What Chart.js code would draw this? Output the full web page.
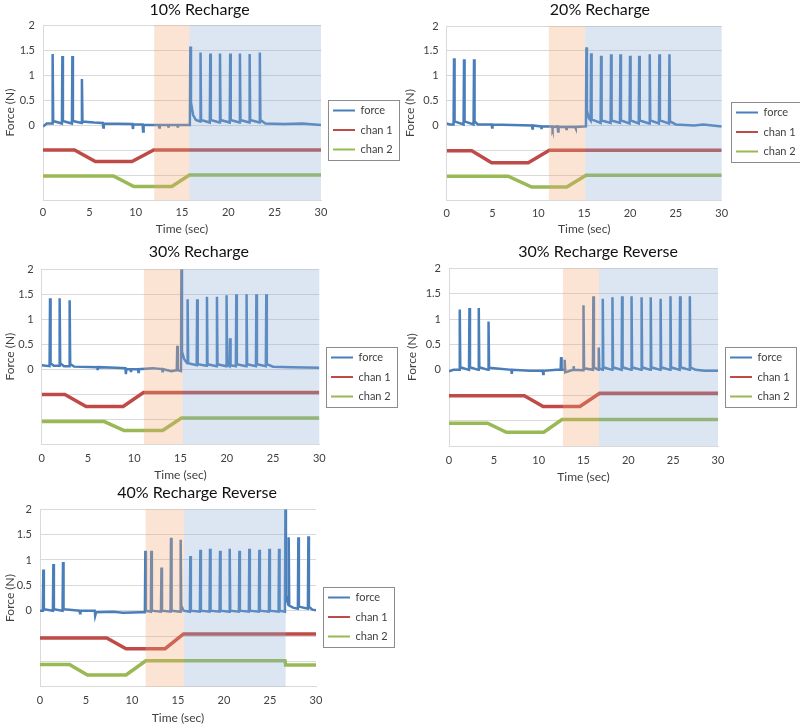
<!DOCTYPE html>
<html>
<head>
<meta charset="utf-8">
<script src="https://cdn.jsdelivr.net/npm/chart.js@4.4.1/dist/chart.umd.min.js"></script>
<style>
  html, body { margin: 0; padding: 0; background: #fff; }
  body { width: 800px; height: 725px; position: relative; overflow: hidden; }
  canvas { position: absolute; }
</style>
</head>
<body>
<canvas id="c1" width="400" height="242" style="left:0;top:0"></canvas>
<canvas id="c2" width="400" height="242" style="left:400px;top:0"></canvas>
<canvas id="c3" width="400" height="245" style="left:0;top:240px"></canvas>
<canvas id="c4" width="400" height="245" style="left:400px;top:240px"></canvas>
<canvas id="c5" width="400" height="245" style="left:0;top:480px"></canvas>
<script>
// series labels shared by every panel
const seriesNames = ['force', 'chan 1', 'chan 2'];
const xTicks = [0, 5, 10, 15, 20, 25, 30];
const yTicks = [0, 0.5, 1, 1.5, 2];

// ---- 10% Recharge ----
const force10 = [[0,-0.03],[0.4,0.03],[0.99,0.03],[1.04,1.42],[1.1,0.08],[2.04,0.03],[2.09,1.38],[2.15,0.08],
  [3.12,0.03],[3.17,1.38],[3.23,0.08],[4.15,0.04],[4.2,0.92],[4.26,0.07],[5.5,0.05],[6.45,0.04],[6.5,-0.05],[6.56,0.03],
  [9.65,0.02],[9.7,-0.08],[9.76,0.01],[10.75,0.01],[10.8,-0.13],[10.86,0],[12.5,0],[12.55,-0.05],[12.6,0],
  [13.5,0],[13.55,-0.05],[13.6,0],[14.5,0],[14.55,-0.05],[14.6,0],[15.85,0],[15.9,1.57],[15.97,0.45],[16.2,0.2],[16.5,0.1],
  [16.95,0.07],[17,1.45],[17.06,0.1],[18,0.05],[18.05,1.43],[18.11,0.1],[19.05,0.05],[19.1,1.43],[19.16,0.1],
  [20.15,0.05],[20.2,1.43],[20.26,0.1],[21.2,0.05],[21.25,1.43],[21.31,0.1],[22.25,0.05],[22.3,1.42],[22.36,0.1],
  [23.35,0.05],[23.4,1.45],[23.46,0.1],[24,0.03],[26,0.02],[28,0.03],[30,0]];
const ch1_10 = [[0,-0.5],[3.4,-0.5],[5.65,-0.73],[9.6,-0.73],[11.95,-0.5],[30,-0.5]];
const ch2_10 = [[0,-1.02],[7.6,-1.02],[9.8,-1.23],[13.9,-1.23],[15.8,-1.0],[30,-1.0]];
const orange10 = [12.0, 15.8];
const blue10 = [15.8, 30];

// ---- 20% Recharge ----
const force20 = [[0,0.04],[0.3,0.02],[0.75,0.02],[0.8,1.35],[0.86,0.08],[1.84,0.02],[1.89,1.33],[1.95,0.08],
  [2.93,0.02],[2.98,1.33],[3.04,0.08],[3.4,0.02],[4.9,0.02],[4.95,-0.04],[5,0.02],[9.3,0],[9.35,-0.06],[9.4,0],
  [10.3,-0.02],[10.35,-0.07],[10.4,-0.02],[11.5,-0.02],[11.55,-0.06],[11.6,-0.03],[12.1,-0.02],[12.15,-0.12],[12.2,-0.03],
  [13,-0.03],[13.05,-0.07],[13.1,-0.03],[14,-0.03],[14.05,-0.06],[14.1,-0.03],[15.19,-0.02],[15.24,1.57],[15.3,0.3],[15.5,0.15],
  [15.7,0.1],[15.75,1.45],[15.81,0.12],[16.79,0.05],[16.84,1.4],[16.9,0.1],[17.88,0.05],[17.93,1.43],[17.99,0.1],
  [18.9,0.05],[18.95,1.43],[19.01,0.1],[19.95,0.04],[20,1.4],[20.06,0.1],[20.95,0.04],[21,1.4],[21.06,0.1],
  [22.1,0.04],[22.15,1.43],[22.21,0.1],[23.15,0.04],[23.2,1.43],[23.26,0.1],[24.25,0.04],[24.3,1.43],[24.36,0.08],
  [25,0.02],[27,0],[28,0.02],[30,-0.02]];
const ch1_20 = [[0,-0.51],[2.73,-0.51],[4.9,-0.75],[8.9,-0.75],[11.2,-0.5],[30,-0.5]];
const ch2_20 = [[0,-1.02],[6.7,-1.02],[9.27,-1.24],[13.1,-1.24],[15.2,-1.0],[30,-1.0]];
const orange20 = [11.15, 15.1];
const blue20 = [15.1, 30];

// ---- 30% Recharge ----
const force30 = [[0,0.08],[0.85,0.06],[0.9,1.42],[0.96,0.12],[1.3,0.07],[1.89,0.07],[1.94,1.42],[2,0.12],[2.4,0.06],
  [2.97,0.06],[3.02,1.38],[3.08,0.1],[3.5,0.05],[6,0.04],[6.05,-0.02],[6.1,0.04],[8,0.03],[9.05,0.02],[9.1,-0.1],[9.15,0],
  [9.6,0],[9.65,-0.06],[9.7,0],[10.4,0],[10.45,-0.06],[10.5,0],[12,0.02],[13,0],[13.05,-0.04],[13.1,0],[14,-0.04],
  [14.6,-0.02],[14.65,0.47],[14.7,-0.02],[15.05,-0.04],[15.1,2.0],[15.16,0.35],[15.4,0.2],[15.72,0.12],[15.77,1.4],[15.83,0.12],
  [16.75,0.08],[16.8,1.4],[16.86,0.1],[17.81,0.07],[17.86,1.45],[17.92,0.1],[18.89,0.06],[18.94,1.45],[19,0.1],
  [19.93,0.06],[19.98,1.48],[20.04,0.1],[20.3,0.06],[20.35,0.62],[20.41,0.08],[20.98,0.06],[21.03,1.5],[21.09,0.1],
  [22.09,0.06],[22.14,1.5],[22.2,0.1],[23.15,0.06],[23.2,1.5],[23.26,0.1],[24.22,0.06],[24.27,1.5],[24.33,0.1],
  [25,0.05],[27,0.04],[30,0.03]];
const ch1_30 = [[0,-0.51],[2.5,-0.51],[4.8,-0.75],[8.8,-0.75],[11.0,-0.47],[30,-0.47]];
const ch2_30 = [[0,-1.05],[6.77,-1.05],[8.9,-1.23],[13.07,-1.23],[15.1,-0.98],[30,-0.98]];
const orange30 = [11.05, 15.23];
const blue30 = [15.23, 30];

// ---- 30% Recharge Reverse ----
const force30r = [[0,-0.03],[0.5,0],[1.15,0],[1.2,1.19],[1.26,0.05],[2.23,0],[2.28,1.22],[2.34,0.05],
  [3.27,0],[3.32,1.22],[3.38,0.05],[4.36,0],[4.41,0.95],[4.47,0.04],[6.95,0],[7,-0.08],[7.05,0],[9,-0.02],
  [10.45,-0.02],[10.5,-0.08],[10.55,-0.02],[12,0],[12.45,0],[12.5,0.25],[12.56,0],[12.85,0],[12.9,0.2],[12.96,-0.05],
  [13.85,0],[13.9,0.07],[13.96,0],[14.95,-0.01],[15,1.27],[15.06,0.03],[16.05,0],[16.1,1.45],[16.16,0.05],
  [16.65,0],[16.7,0.44],[16.76,0.03],[17.1,0],[17.15,1.4],[17.21,0.05],[18.18,0],[18.23,1.43],[18.29,0.05],
  [19.25,0],[19.3,1.45],[19.36,0.05],[20.31,0],[20.36,1.45],[20.42,0.05],[21.43,0],[21.48,1.43],[21.54,0.05],
  [22.45,0],[22.5,1.43],[22.56,0.05],[23.55,0],[23.6,1.4],[23.66,0.05],[24.65,0],[24.7,1.45],[24.76,0.05],
  [25.72,0],[25.77,1.45],[25.83,0.05],[26.81,0],[26.86,1.45],[26.92,0.05],[27.5,0],[28.5,-0.02],[30,-0.02]];
const ch1_30r = [[0,-0.51],[8.4,-0.51],[10.5,-0.72],[14.6,-0.72],[16.8,-0.46],[30,-0.46]];
const ch2_30r = [[0,-1.05],[4.3,-1.05],[6.4,-1.23],[10.57,-1.23],[12.6,-0.98],[30,-0.98]];
const orange30r = [12.7, 16.73];
const blue30r = [16.73, 30];

// ---- 40% Recharge Reverse ----
const force40r = [[0,0],[0.31,0],[0.36,0.81],[0.42,0.03],[1.4,0],[1.45,0.92],[1.51,0.03],[2.45,0],[2.5,0.96],[2.56,0.03],
  [4.3,0],[4.35,-0.05],[4.4,0],[5.95,0],[6,-0.1],[6.1,-0.03],[8,-0.02],[9,-0.04],[11,-0.03],
  [11.4,-0.03],[11.45,1.18],[11.51,0],[12.05,-0.02],[12.1,1.18],[12.16,0],[13.15,-0.02],[13.2,0.85],[13.26,0],
  [14.19,-0.02],[14.24,1.44],[14.3,0],[15.24,-0.02],[15.29,1.4],[15.35,0.1],[15.6,0],[16.29,-0.02],[16.34,1.08],[16.4,0],
  [17.38,-0.02],[17.43,1.2],[17.49,0],[18.43,-0.02],[18.48,1.22],[18.54,0],[19.52,-0.02],[19.57,1.18],[19.63,0],
  [20.57,-0.02],[20.62,1.22],[20.68,0],[21.62,-0.02],[21.67,1.18],[21.73,0],[22.7,-0.02],[22.75,1.22],[22.81,0],
  [23.79,-0.02],[23.84,1.2],[23.9,0],[24.88,-0.02],[24.93,1.22],[24.99,0],[25.93,-0.02],[25.98,1.22],[26.04,0],
  [26.62,-0.02],[26.67,2.0],[26.73,0.3],[26.95,0.15],[26.98,0.12],[27.03,1.45],[27.09,0.1],[27.5,0.06],
  [28.03,0.04],[28.08,1.45],[28.14,0.08],[29.12,0.04],[29.17,1.47],[29.23,0.08],[29.6,0.02],[30,0.01]];
const ch1_40r = [[0,-0.54],[7.25,-0.54],[9.35,-0.75],[13.6,-0.75],[15.6,-0.46],[30,-0.46]];
const ch2_40r = [[0,-1.06],[3.2,-1.06],[5.15,-1.27],[9.35,-1.27],[11.5,-0.99],[26.63,-0.99],[26.7,-1.07],[30,-1.07]];
const orange40r = [11.48, 15.65];
const blue40r = [15.65, 26.7];

const FONT = "Lato, 'Open Sans', sans-serif";
const TXT = '#404040';
const GRID = '#d9d9d9';
const LINE_COLORS = ['#4a7ebb', '#be4b48', '#98b954'];
const LINE_WIDTHS = [2.5, 3.5, 3.5];
const ORANGE_SHADE = 'rgba(242,165,112,0.3)';
const BLUE_SHADE = 'rgba(138,172,212,0.3)';

// shaded time windows, drawn over the traces (like the translucent boxes in the figure)
const shadePlugin = {
  id: 'shade',
  afterDatasetsDraw(chart, args, opts) {
    const { ctx, chartArea: a, scales: { x } } = chart;
    ctx.save();
    opts.spans.forEach(([from, to, color]) => {
      const x0 = x.getPixelForValue(from);
      const x1 = x.getPixelForValue(to);
      ctx.fillStyle = color;
      ctx.fillRect(x0, a.top, x1 - x0, a.bottom - a.top);
    });
    ctx.restore();
  }
};

// moves the legend to where it sits in the figure and boxes it
const legendSpot = {
  id: 'legendSpot',
  afterLayout(chart, args, opts) {
    const lg = chart.legend;
    const pad = lg.options.labels.padding;
    lg.left = opts.x + 5 - pad; lg.right = lg.left + lg.width;
    lg.top = opts.y + 5 - pad; lg.bottom = lg.top + lg.height;
  },
  afterDraw(chart, args, opts) {
    const hb = chart.legend.legendHitBoxes;
    if (!hb || !hb.length) return;
    const right = Math.max(...hb.map(h => h.left + h.width)) + 6;
    const last = hb[hb.length - 1];
    const bottom = last.top + last.height + 5;
    const ctx = chart.ctx;
    ctx.save();
    ctx.strokeStyle = '#8c8c8c';
    ctx.lineWidth = 1;
    ctx.strokeRect(Math.round(opts.x) + 0.5, Math.round(opts.y) + 0.5, Math.round(right - opts.x), Math.round(bottom - opts.y));
    ctx.restore();
  }
};

function makePanel(id, title, series, orange, blue, lay) {
  const canvas = document.getElementById(id);
  const W = canvas.width, H = canvas.height;
  const [L, T, R, B] = lay.area;
  const font = (size) => ({ family: FONT, size: size, lineHeight: 1.2, weight: 'normal' });
  const titleTop = lay.titleY - 9.6;

  const chart = new Chart(canvas, {
    type: 'line',
    data: {
      datasets: series.map((d, i) => ({
        label: seriesNames[i],
        data: d,
        borderColor: LINE_COLORS[i],
        backgroundColor: LINE_COLORS[i],
        borderWidth: LINE_WIDTHS[i],
        pointRadius: 0,
        tension: 0,
        fill: false
      }))
    },
    options: {
      responsive: false,
      animation: false,
      layout: { padding: { left: 0, top: 0, right: 0, bottom: 0 } },
      plugins: {
        title: {
          display: true, text: title, color: '#111', font: font(16),
          padding: { top: titleTop, bottom: T - titleTop - 19.2 }
        },
        legend: {
          position: 'right', align: 'start', fullSize: false, maxWidth: W - R,
          labels: {
            boxWidth: 22, boxHeight: 2, padding: 8.5, color: TXT, font: font(11),
            generateLabels: (c) => Chart.defaults.plugins.legend.labels.generateLabels(c)
              .map(it => Object.assign(it, { fillStyle: it.strokeStyle, lineWidth: 0 }))
          }
        },
        tooltip: { enabled: false },
        shade: { spans: [[orange[0], orange[1], ORANGE_SHADE], [blue[0], blue[1], BLUE_SHADE]] },
        legendSpot: { x: lay.legend[0], y: lay.legend[1] }
      },
      scales: {
        x: {
          type: 'linear', min: xTicks[0], max: xTicks[xTicks.length - 1],
          afterBuildTicks: (s) => { s.ticks = xTicks.map(v => ({ value: v })); },
          ticks: { color: TXT, font: font(11), padding: lay.xLabelY - B - 6.6, maxRotation: 0 },
          grid: { display: false, drawTicks: false },
          border: { display: true, color: GRID },
          title: { display: true, text: 'Time (sec)', color: TXT, font: font(12), padding: { top: 0, bottom: H - lay.xTitleY - 7.2 } },
          afterFit: (s) => { s.height = H - B; }
        },
        y: {
          min: -1.5, max: 2,
          ticks: {
            stepSize: 0.5, color: TXT, font: font(11), padding: 8,
            callback: (v) => (yTicks.includes(v) ? String(v) : '')
          },
          grid: { color: GRID, drawTicks: false },
          border: { display: true, color: GRID },
          title: { display: true, text: 'Force (N)', color: TXT, font: font(12), padding: { top: lay.yTitleX - 7.2, bottom: 0 } },
          afterFit: (s) => { s.width = L; }
        }
      }
    },
    plugins: [shadePlugin, legendSpot]
  });

  // reserve the gap to the right so that the plot area ends where the figure's does
  const extra = Math.max(0, (W - R) - chart.legend.width);
  chart.options.layout.padding = { left: 0, top: 0, bottom: 0, right: extra };
  chart.update();
  return chart;
}

makePanel('c1', '10% Recharge', [force10, ch1_10, ch2_10], orange10, blue10,
  { area: [43, 25, 321, 200], titleY: 10, xLabelY: 212, xTitleY: 229, yTitleX: 10, legend: [328, 100] });
makePanel('c2', '20% Recharge', [force20, ch1_20, ch2_20], orange20, blue20,
  { area: [46.7, 26, 321.7, 200], titleY: 9.5, xLabelY: 213, xTitleY: 229.5, yTitleX: 10, legend: [331, 102] });
makePanel('c3', '30% Recharge', [force30, ch1_30, ch2_30], orange30, blue30,
  { area: [41.7, 29.3, 319.3, 204], titleY: 12, xLabelY: 218, xTitleY: 235, yTitleX: 10, legend: [326, 107] });
makePanel('c4', '30% Recharge Reverse', [force30r, ch1_30r, ch2_30r], orange30r, blue30r,
  { area: [49, 28.3, 318, 206], titleY: 12, xLabelY: 220, xTitleY: 237, yTitleX: 12, legend: [325, 107] });
makePanel('c5', '40% Recharge Reverse', [force40r, ch1_40r, ch2_40r], orange40r, blue40r,
  { area: [40, 29.3, 316, 206.7], titleY: 13, xLabelY: 220, xTitleY: 238, yTitleX: 10, legend: [323, 107] });
</script>
</body>
</html>
